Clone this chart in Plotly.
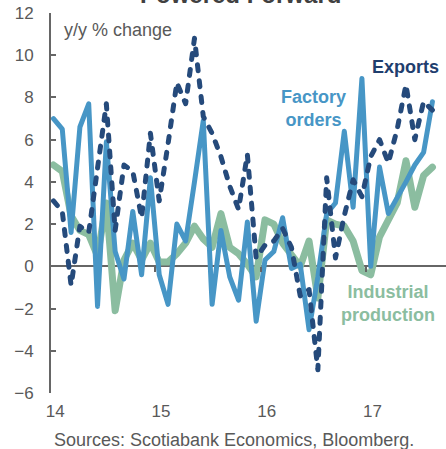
import plotly.graph_objects as go

# ---- data (monthly, Jan 2014 .. Aug 2017), y/y % change ----
months = list(range(44))
year_labels = ["14", "15", "16", "17"]

exports = [3.1, 2.6, -0.9, 1.9, 1.6, 4.7, 7.7, 1.7, 4.8, 4.5, 2.3, 6.3,
           3.1, 5.8, 8.7, 7.7, 10.8, 7.1, 6.3, 5.2, 3.8, 2.7, 5.3, 0.4,
           1.0, 1.2, 1.8, 0.9, -1.4, -1.1, -4.9, 4.2, 0.4, 2.4, 4.1, 3.3,
           5.2, 6.0, 4.9, 6.5, 8.6, 6.0, 7.8, 7.4]

factory_orders = [7.0, 6.5, 1.6, 6.6, 7.7, -1.9, 5.9, 0.7, -0.6, 2.6, -0.4, 4.2,
                  -0.4, -1.8, 2.0, 1.2, 4.0, 6.9, -1.8, 1.7, -0.5, -1.6, 2.1, -2.6,
                  0.3, 0.7, 2.3, -0.1, 0.1, -3.0, -0.5, 2.5, 3.0, 6.4, 2.8, 8.9,
                  0.0, 4.7, 2.5, 3.2, 4.0, 4.8, 5.4, 7.8]

industrial_production = [4.8, 4.5, 2.4, 1.7, 1.5, 0.5, 3.0, -2.1, 0.3, 1.1, 0.3, 1.1,
                         0.2, 0.2, 0.6, 1.1, 1.9, 1.3, 0.9, 2.5, 0.9, 0.6, 0.1, -0.5,
                         2.2, 2.0, 1.1, 0.6, 0.0, 1.2, -1.5, 2.2, 2.0, 1.9, 1.2, -0.2,
                         -0.4, 1.4, 2.2, 3.0, 5.0, 2.8, 4.3, 4.7]

# ---- layout geometry ----
W, H = 446, 449
ML, MR, MT, MB = 51, 0, 13, 56
X_RANGE = [-0.28, 44.54]
Y_RANGE = [-6, 12]

label_pos = [12 * i + 0.2 for i in range(len(year_labels))]
boundary_ticks = [12 * i - 0.5 for i in range(1, len(year_labels))]


def pxx(xp):
    return (xp - ML) / (W - ML - MR)


def pxy(yp):
    return (H - MB - yp) / (H - MT - MB)


C_EXP = "#254a7b"
C_FAC = "#4796c6"
C_IND = "#8bbda0"
C_TXT = "#595959"

fig = go.Figure()
fig.add_trace(go.Scatter(x=months, y=industrial_production, mode="lines",
                         line=dict(color=C_IND, width=7), name="Industrial production"))
fig.add_trace(go.Scatter(x=months, y=factory_orders, mode="lines",
                         line=dict(color=C_FAC, width=5), name="Factory orders"))
fig.add_trace(go.Scatter(x=months, y=exports, mode="lines", xaxis="x2",
                         line=dict(color=C_EXP, width=5, dash="6px,10px"), name="Exports"))

fig.update_layout(
    width=W, height=H,
    margin=dict(l=ML, r=MR, t=MT, b=MB),
    paper_bgcolor="white", plot_bgcolor="white",
    showlegend=False,
    font=dict(family="Arial, Liberation Sans, sans-serif", color=C_TXT),
    xaxis=dict(range=X_RANGE, tickmode="array", tickvals=label_pos, ticktext=year_labels,
               ticks="", showline=False, showgrid=False, zeroline=False,
               tickfont=dict(size=17, color=C_TXT), ticklabelstandoff=6),
    xaxis2=dict(range=X_RANGE, overlaying="x", anchor="free",
                position=(0 - Y_RANGE[0]) / (Y_RANGE[1] - Y_RANGE[0]),
                tickmode="array", tickvals=boundary_ticks, ticks="outside",
                ticklen=5, tickwidth=2, tickcolor="#666666",
                showticklabels=False, showline=False, showgrid=False, zeroline=False),
    yaxis=dict(range=Y_RANGE, tickmode="linear", tick0=0, dtick=2,
               ticks="inside", ticklen=5, tickwidth=2, tickcolor="#666666",
               showline=True, linecolor="#666666", linewidth=2,
               showgrid=False, zeroline=True, zerolinecolor="#666666", zerolinewidth=2,
               tickfont=dict(size=17, color=C_TXT), ticklabelstandoff=12),
)

ann = [
    dict(text="<b>Powered Forward</b>", x=pxx(240), y=1, yanchor="bottom", yshift=3,
         xanchor="center", font=dict(size=24, color="#404040")),
    dict(text="y/y % change", x=pxx(62), xanchor="left", y=pxy(30), yanchor="middle",
         font=dict(size=18, color=C_TXT)),
    dict(text="<b>Exports</b>", x=pxx(405), xanchor="center", y=pxy(67), yanchor="middle",
         font=dict(size=18, color="#1f3e6e")),
    dict(text="<b>Factory<br>orders</b>", x=pxx(313), xanchor="center", y=pxy(108),
         yanchor="middle", font=dict(size=18, color=C_FAC)),
    dict(text="<b>Industrial<br>production</b>", x=pxx(388), xanchor="center", y=pxy(303),
         yanchor="middle", font=dict(size=18, color=C_IND)),
    dict(text="Sources: Scotiabank Economics, Bloomberg.", x=pxx(52), xanchor="left",
         y=pxy(440), yanchor="middle", font=dict(size=18, color=C_TXT)),
]
for a in ann:
    a.update(xref="paper", yref="paper", showarrow=False)
fig.update_layout(annotations=ann)

post = (
    "document.body.style.margin='0';document.body.style.overflow='hidden';"
    "document.querySelectorAll('.scatterlayer .js-line').forEach(function(p){"
    "p.style.strokeLinecap='round';p.style.strokeLinejoin='round';});"
)

fig.write_html("out.html", config={"displayModeBar": False}, post_script=post)
